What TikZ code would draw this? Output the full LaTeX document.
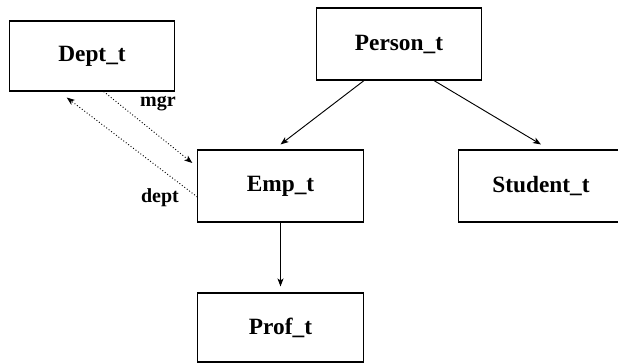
\documentclass[tikz,border=0pt]{standalone}
\usepackage{fontspec}
\setmainfont{Liberation Serif}
\usetikzlibrary{arrows.meta,calc}
\begin{document}
\begin{tikzpicture}[x=0.75pt,y=-0.75pt,
  box/.style={draw,line width=0.8pt,inner sep=0pt,minimum width=124pt,minimum height=54pt,font=\fontsize{17.5}{19}\selectfont\bfseries},
  arr/.style={line width=0.7pt,-{Stealth[length=6pt,width=4.5pt,inset=1.5pt]}},
  dot/.style={arr,dash pattern=on 0.7pt off 1.6pt},
  lbl/.style={font=\fontsize{15}{17}\selectfont\bfseries,inner sep=0pt}]
\useasboundingbox (0,0) rectangle (618,364);
\node[box,minimum height=52.5pt] (dept) at (92,56) {Dept\_t};
\node[box] (person) at (399,44) {Person\_t};
\node[box] (emp) at (280.5,186) {Emp\_t};
\node[box] (student) at (541,186) {Student\_t};
\node[box,minimum height=51.75pt] (prof) at (280.5,327.5) {Prof\_t};
\draw[arr] ($(person.south west)!0.29!(person.south east)$) -- ($(emp.north)+(0,-5)$);
\draw[arr] ($(person.south west)!0.71!(person.south east)$) -- ($(student.north)+(0,-5)$);
\draw[arr] (emp.south) -- ($(prof.north)+(0,-6)$);
\draw[dot] ($(dept.south west)!0.57!(dept.south east)$) -- ($(emp.north west)!0.24!(emp.south west)+(-5,-4)$);
\draw[dot] ($(emp.north west)!0.65!(emp.south west)$) -- ($(dept.south west)!0.30!(dept.south east)+(8,6)$);
\node[lbl] (mgr) at (158,104) {mgr};
\node[lbl] (dl) at (160,198) {dept};
\end{tikzpicture}
\end{document}
